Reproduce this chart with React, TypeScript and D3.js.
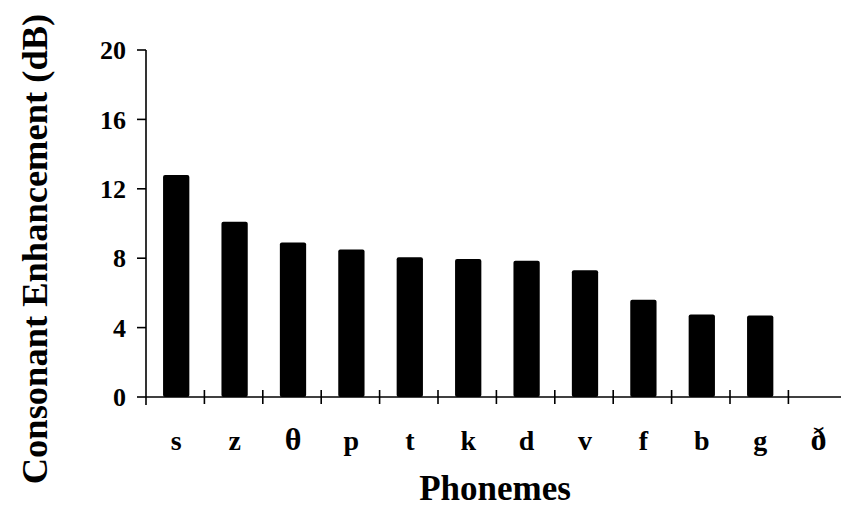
import React from "react";
import * as d3 from "d3";

const phonemes = ["s", "z", "θ", "p", "t", "k", "d", "v", "f", "b", "g", "ð"];
const enhancement = [12.8, 10.1, 8.9, 8.5, 8.05, 7.95, 7.85, 7.3, 5.6, 4.75, 4.7, 0];
const yTicks = [0, 4, 8, 12, 16, 20];

const W = 841;
const H = 509;
const FONT = "'Liberation Serif', 'Times New Roman', serif";

export default function App() {
  const x0 = 146;
  const step = 58.4;
  const x = d3
    .scaleBand<string>()
    .domain(phonemes)
    .range([x0, x0 + step * phonemes.length])
    .paddingInner(0)
    .paddingOuter(0);
  const y = d3.scaleLinear().domain([0, 20]).range([397, 50]);
  const barW = x.bandwidth() * 0.45;
  const data = phonemes.map((p, i) => ({ p, v: enhancement[i] }));

  return (
    <svg
      width={W}
      height={H}
      style={{ position: "absolute", left: 0, top: 0, background: "#fff" }}
      fontFamily={FONT}
      fontWeight="bold"
    >
      <rect x={0} y={0} width={W} height={H} fill="#fff" />
      {/* bars */}
      {data
        .filter((d) => d.v > 0)
        .map((d) => (
          <rect
            key={d.p}
            x={(x(d.p) as number) + x.bandwidth() / 2 - barW / 2 + 1}
            y={y(d.v)}
            width={barW}
            height={y(0) - y(d.v)}
            rx={2}
            fill="#000"
          />
        ))}
      {/* y axis */}
      <line x1={x0} x2={x0} y1={y(20)} y2={y(0) + 8} stroke="#000" strokeWidth={1.6} />
      {yTicks.map((t) => (
        <g key={t}>
          <line x1={x0 - 9} x2={x0} y1={y(t)} y2={y(t)} stroke="#000" strokeWidth={1.6} />
          <text x={126} y={y(t)} dy="0.35em" textAnchor="end" fontSize={26}>
            {t}
          </text>
        </g>
      ))}
      {/* x axis */}
      <line x1={x0} x2={W} y1={y(0)} y2={y(0)} stroke="#000" strokeWidth={1.6} />
      {phonemes.slice(1).map((p) => (
        <line
          key={p}
          x1={x(p) as number}
          x2={x(p) as number}
          y1={y(0) - 7}
          y2={y(0) + 7}
          stroke="#000"
          strokeWidth={1.6}
        />
      ))}
      {phonemes.map((p) => (
        <text
          key={p}
          x={(x(p) as number) + x.bandwidth() / 2 + 1}
          y={450}
          textAnchor="middle"
          fontSize={p === "θ" || p === "ð" ? 32 : 28}
        >
          {p}
        </text>
      ))}
      {/* axis titles */}
      <text x={495} y={500} textAnchor="middle" fontSize={35}>
        Phonemes
      </text>
      <text
        transform={`translate(47, 249) rotate(-90)`}
        textAnchor="middle"
        fontSize={36.5}
      >
        Consonant Enhancement (dB)
      </text>
    </svg>
  );
}
